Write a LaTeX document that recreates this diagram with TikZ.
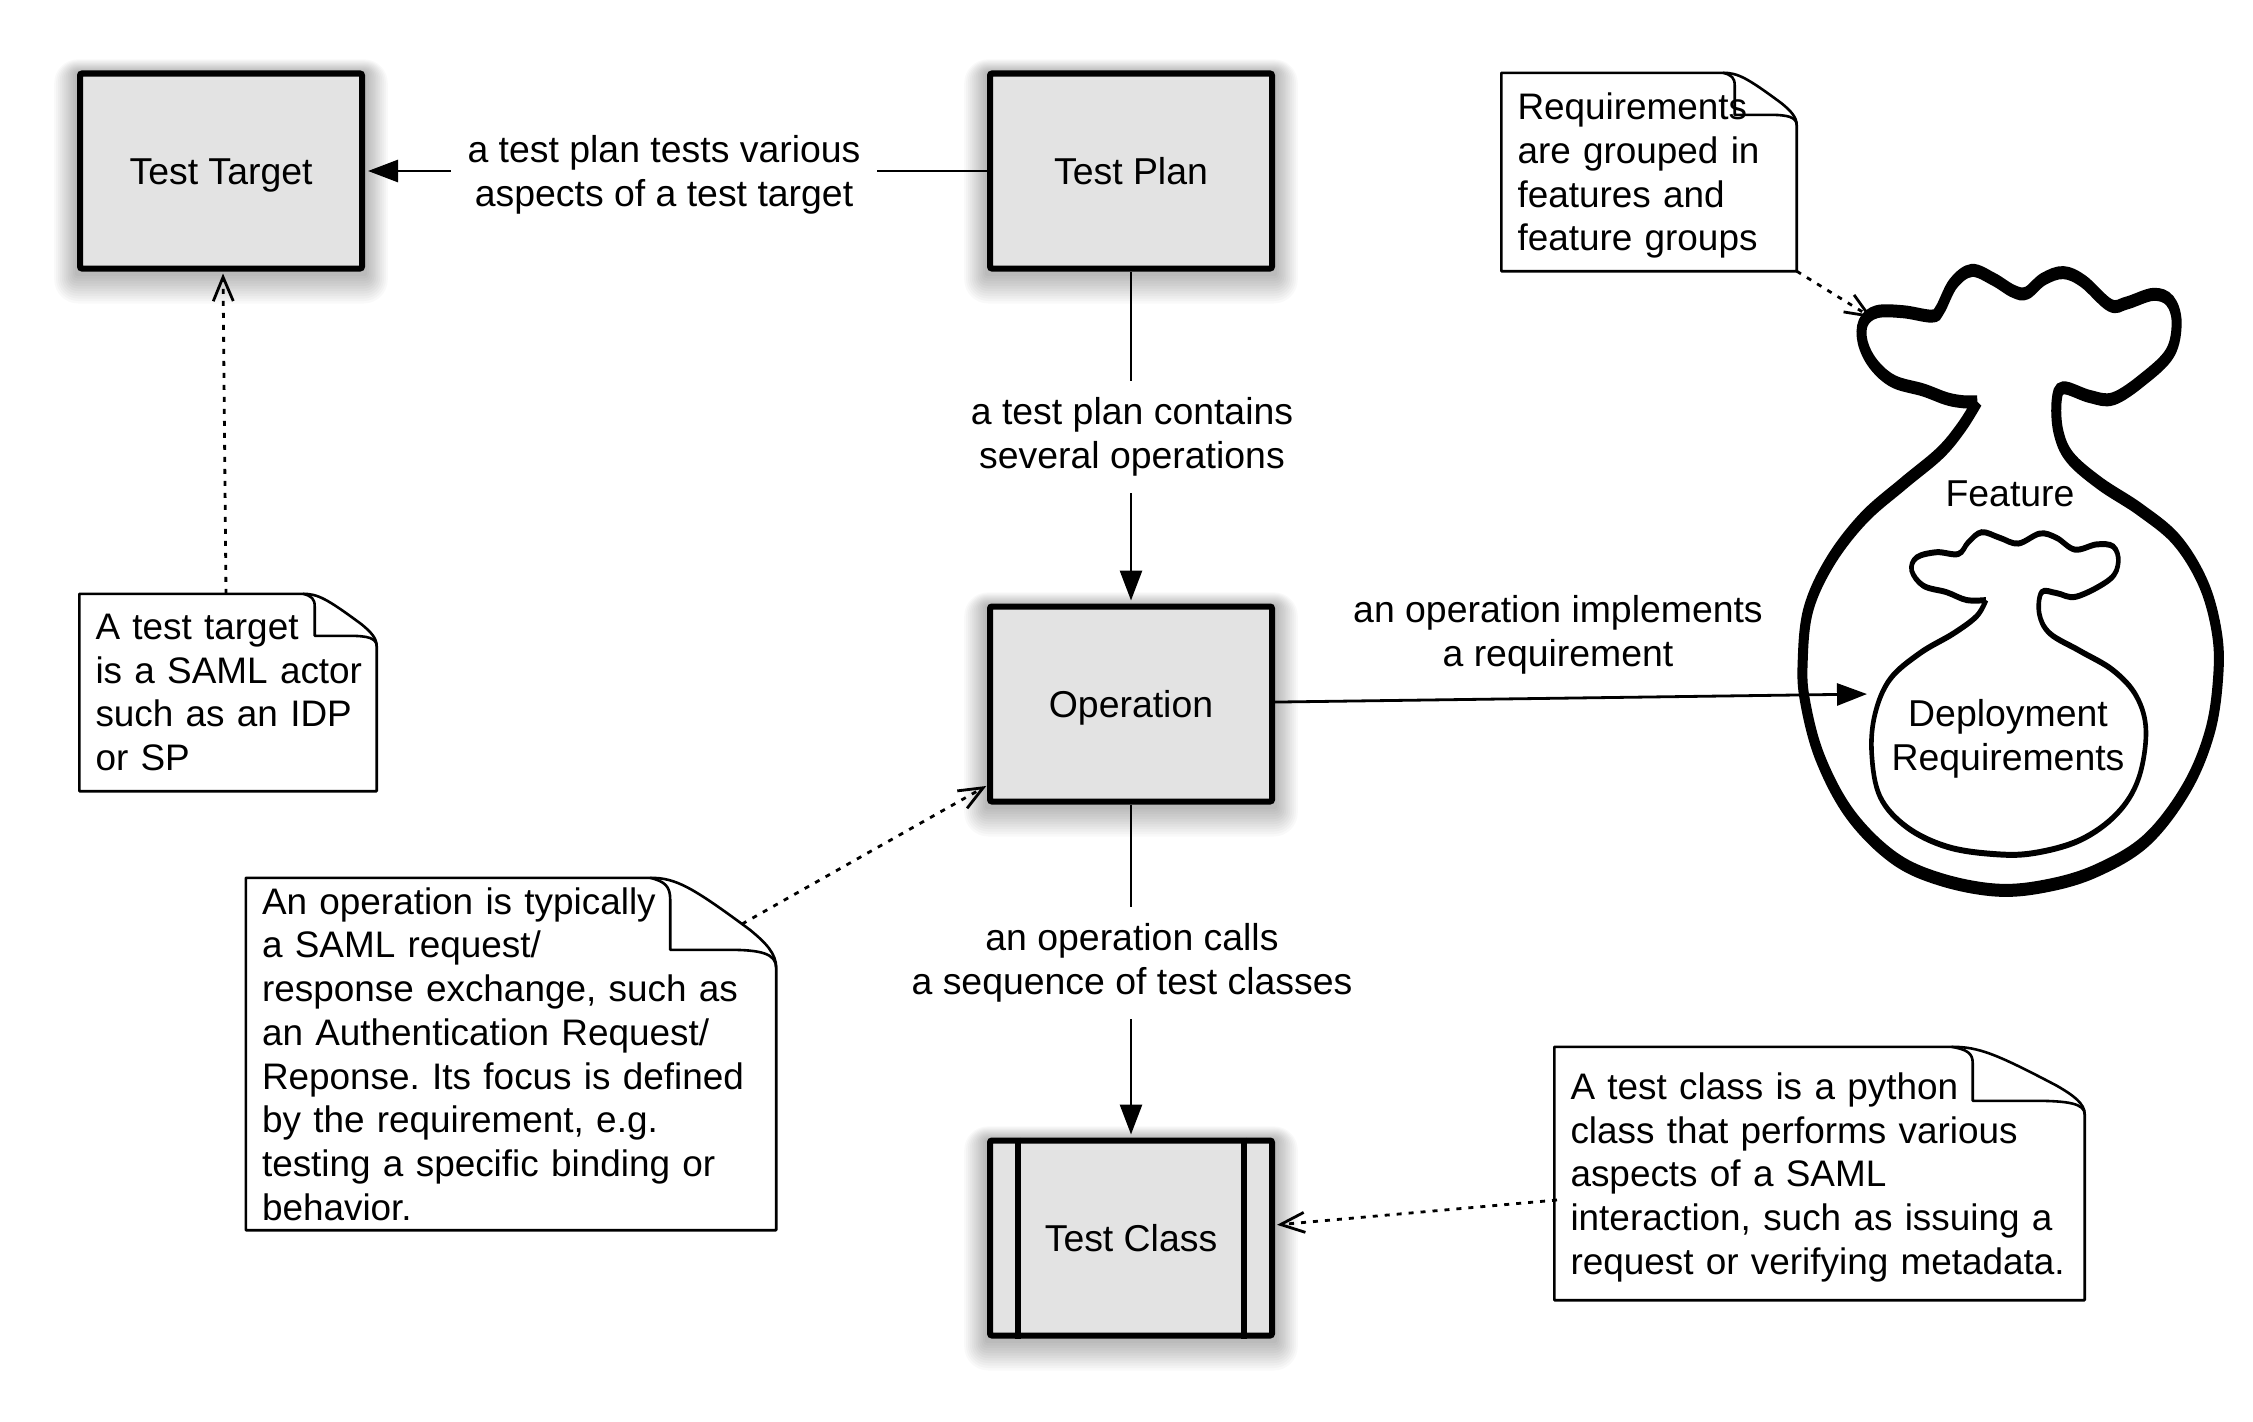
\documentclass[tikz,border=0pt]{standalone}
\usepackage{fontspec}
\setmainfont{Liberation Sans}
\usetikzlibrary{arrows.meta}
\tikzset{
  x=1pt,y=-1pt,
  every node/.style={font=\fontsize{37.4}{43.7}\selectfont,text=black},
  boxnode/.style={draw=black,fill=boxgray,line width=6pt,rounded corners=2pt,minimum width=282pt,minimum height=195pt,inner sep=0pt,text height=26.5pt,text depth=0pt},
  labelnode/.style={fill=white,align=center,inner xsep=17pt,inner ysep=17pt},
  plainlabel/.style={align=center,inner sep=0pt},
  notebox/.style n args={2}{draw=none,fill=white,font=\fontsize{36.9}{43.7}\selectfont,align=left,inner xsep=0pt,inner ysep=0pt,text width=#1pt,minimum height=#2pt,
     execute at begin node={\frenchspacing\hyphenpenalty=10000\leftskip=16pt\relax}},
  notedraw/.style={draw=black,line width=2.6pt,line join=round},
  conn/.style={line width=2.8pt,-{Triangle[length=30pt,width=22pt]},shorten >=3pt},
  noteconn/.style={line width=2.8pt,dash pattern=on 5pt off 7pt,-{Straight Barb[length=24pt,width=20pt,line width=2.8pt]},shorten >=2pt},
  bagouter/.style={line width=10pt,line join=miter,miter limit=20},
  baginner/.style={line width=4.6pt,line join=miter,miter limit=20}
}
\definecolor{boxgray}{HTML}{E3E3E3}
\newcommand{\softshadow}[2]{%
  \foreach \i in {1,...,12}{%
    \fill[black,opacity=0.024,rounded corners={\i*2pt}]
      ({#1-141-3-\i*1.9},{#2-97.5-3-\i*1.1+2}) rectangle ({#1+141+3+\i*1.9},{#2+97.5+3+\i*2.5+2});
  }%
}
\newcommand{\notefold}[3]{% name, fold x from right, fold y from top
  \draw[notedraw] (#1.north west) -- ([xshift={-1.19*#2}]#1.north east)
    .. controls ([xshift={-0.95*#2}]#1.north east) and ([xshift={-0.8*#2},yshift={-0.12*#3}]#1.north east)
    .. ([xshift={-0.25*#2},yshift={-0.72*#3}]#1.north east)
    .. controls ([xshift={-0.1*#2},yshift={-0.9*#3}]#1.north east) and ([yshift={-1.05*#3}]#1.north east)
    .. ([yshift={-1.25*#3}]#1.north east)
    -- (#1.south east) -- (#1.south west) -- cycle;
  \draw[notedraw] ([xshift={-1.19*#2}]#1.north east)
    .. controls ([xshift={-1.05*#2},yshift={-0.05*#3}]#1.north east) and ([xshift={-#2},yshift={-0.12*#3}]#1.north east)
    .. ([xshift={-#2},yshift={-0.3*#3}]#1.north east)
    -- ([xshift={-#2},yshift={-#3}]#1.north east)
    -- ([xshift={-0.45*#2},yshift={-#3}]#1.north east)
    .. controls ([xshift={-0.15*#2},yshift={-#3}]#1.north east) and ([yshift={-1.05*#3}]#1.north east)
    .. ([yshift={-1.25*#3}]#1.north east);
}
\begin{document}
\begin{tikzpicture}
\fill[white] (0,0) rectangle (2253,1421);
\path[use as bounding box] (0,0) rectangle (2253,1421);

% feature bags (canvas stretched vertically so the pen is thicker on the horizontal runs)
\begin{scope}[transform canvas={yscale=1.3}]
\begin{scope}[shift={(1780,{240/1.3})},x=0.3333pt,y={-0.435pt/1.3}]
\draw[bagouter] plot[smooth,tension=0.6] coordinates {
 (592,372) (550,372) (500,365) (430,345) (340,325) (280,285) (248,235) (250,190) (290,165) (370,165) (455,175) (480,160)
 (520,100) (575,70) (640,90) (700,118) (740,122) (790,90) (850,75) (910,95) (990,150) (1040,145) (1120,125) (1170,140)
 (1190,190) (1170,260) (1090,320) (1000,365) (930,360) (850,340) (830,370) (835,440) (870,500) (960,560) (1080,620)
 (1190,690) (1270,790) (1310,900) (1315,1000) (1290,1130) (1220,1260) (1100,1380) (950,1450) (800,1485) (650,1495)
 (480,1470) (340,1420) (210,1320) (120,1190) (75,1060) (68,970) (85,850) (150,740) (250,640) (370,560) (480,490) (545,430) (592,372)};
\draw[baginner] plot[smooth,tension=0.6] coordinates {
 (618,828) (560,828) (500,810) (430,795) (395,760) (410,730) (470,718) (535,722) (565,695) (605,672) (660,685) (715,698)
 (780,675) (830,685) (885,712) (950,700) (1000,705) (1015,740) (990,780) (890,820) (830,812) (785,810) (778,860) (810,905)
 (900,945) (1000,990) (1070,1050) (1098,1130) (1075,1240) (1010,1320) (900,1380) (760,1410) (640,1412) (500,1395)
 (380,1350) (300,1280) (275,1180) (285,1090) (330,1010) (420,950) (520,905) (590,865) (618,828)};
\end{scope}
\end{scope}
\node[plainlabel] (feature) at (2010,494) {Feature};
\node[plainlabel] (deploy) at (2008,739) {Deployment\\Requirements};
\coordinate (bagleft) at (1870,694);
\coordinate (bagtop) at (1874,319);

% main boxes
\softshadow{221}{171}
\node[boxnode] (target) at (221,171) {Test Target};
\softshadow{1131}{171}
\node[boxnode] (plan) at (1131,171) {Test Plan};
\softshadow{1131}{704}
\node[boxnode] (operation) at (1131,704) {Operation};
\softshadow{1131}{1238}
\node[boxnode] (tclass) at (1131,1238) {Test Class};
\draw[line width=6pt] ([xshift=31pt]tclass.north west) -- ([xshift=31pt]tclass.south west);
\draw[line width=6pt] ([xshift=-31pt]tclass.north east) -- ([xshift=-31pt]tclass.south east);

% connectors
\draw[conn] (plan) -- (target);
\draw[conn] (plan) -- (operation);
\draw[conn] (operation) -- (tclass);
\draw[conn] (operation) -- (bagleft);

% connector labels
\node[labelnode] (l1) at (664,175) {a test plan tests various\\aspects of a test target};
\node[labelnode] (l2) at (1132,437) {a test plan contains\\several operations};
\node[labelnode] (l3) at (1132,963) {an operation calls\\a sequence of test classes};
\node[plainlabel] (l4) at (1558,635) {an operation implements\\a requirement};

% notes
\node[notebox={297}{197}] (n1) at (228,692.5) {A test target\\is a SAML actor\\such as an IDP\\or SP};
\notefold{n1}{62}{42}
\node[notebox={295}{198}] (n2) at (1649,172) {Requirements\\are grouped in\\features and\\\smash{feature groups}};
\notefold{n2}{62}{42}
\node[notebox={530}{352}] (n3) at (511,1054) {An operation is typically\\a SAML request/\\response exchange, such as\\an Authentication Request/\\Reponse. Its focus is defined\\by the requirement, e.g.\\testing a specific binding or\\behavior.};
\notefold{n3}{106}{72}
\node[notebox={530}{253}] (n4) at (1819.5,1173.5) {A test class is a python\\class that performs various\\aspects of a SAML\\interaction, such as issuing a\\\smash{request or verifying metadata.}};
\notefold{n4}{112}{54}

% note connectors
\draw[noteconn] ([xshift=-2pt]n1.north) -- ([xshift=2pt]target.south);
\draw[noteconn] (n2.south east) -- (bagtop);
\coordinate (n3out) at (742,924);
\coordinate (opin) at (988,785);
\draw[noteconn] (n3out) -- (opin);
\coordinate (n4out) at (1557,1200);
\coordinate (classin) at (1275,1225);
\draw[noteconn] (n4out) -- (classin);
\end{tikzpicture}
\end{document}
